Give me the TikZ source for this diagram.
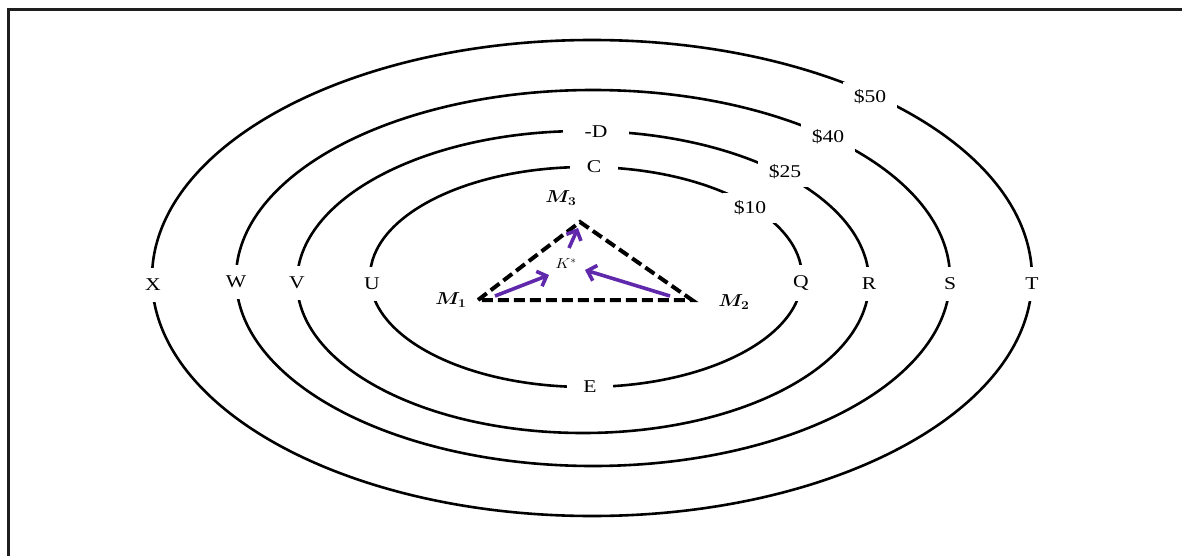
\documentclass[tikz,border=0pt]{standalone}
\usepackage{fontspec}
\usepackage{bm}
\setmainfont{Liberation Serif}
\usetikzlibrary{arrows.meta}
\definecolor{arrowpurple}{RGB}{96,40,170}
\definecolor{framegray}{RGB}{30,30,30}
\tikzset{
  curve/.style={line width=2.6pt, black},
  lab/.style={fill=white, font=\fontsize{18}{20}\selectfont, xscale=1.2},
  sidelab/.style={lab, inner xsep=4pt, inner ysep=11pt},
  toplab/.style={lab, inner xsep=14pt, inner ysep=3pt},
  moneylab/.style={lab, inner xsep=9pt, inner ysep=8pt},
  tri/.style={line width=4pt, dash pattern=on 11pt off 5pt, black},
  pointlab/.style={font=\fontsize{18}{20}\selectfont, inner sep=1pt, xscale=1.15},
  pull/.style={line width=3.6pt, arrowpurple, -{Straight Barb[length=8pt,width=16pt,line width=3.6pt]}}
}
\begin{document}
\begin{tikzpicture}[x=1pt, y=-1pt]
\useasboundingbox (0,0) rectangle (1182,556);
% frame
\draw[line width=2.2pt, framegray] (8.5,556) -- (8.5,9.5) -- (1182,9.5);
% ellipses
\draw[curve] (592,278) ellipse [x radius=440, y radius=238];
\draw[curve] (593,278) ellipse [x radius=357, y radius=188];
\draw[curve] (583,282) ellipse [x radius=286, y radius=151];
\draw[curve] (586,277) ellipse [x radius=216, y radius=110];
% labels on ellipses
\node[moneylab] (d50) at (870,97) {\$50};
\node[moneylab] (d40) at (828,137) {\$40};
\node[moneylab] (d25) at (785,172) {\$25};
\node[moneylab] (d10) at (750,208) {\$10};
\node[toplab, inner xsep=18pt] (mD) at (596,132) {-D};
\node[toplab] (lC) at (594,167) {C};
\node[toplab] (lE) at (590,387) {E};
\node[sidelab] (lX) at (153,285) {X};
\node[sidelab] (lW) at (236,282) {W};
\node[sidelab] (lV) at (297,283) {V};
\node[sidelab] (lU) at (372,284) {U};
\node[sidelab] (lQ) at (801,283) {Q};
\node[sidelab] (lR) at (869,284) {R};
\node[sidelab] (lS) at (950,284) {S};
\node[sidelab] (lT) at (1032,284) {T};
% triangle
\coordinate (m1) at (478,300);
\coordinate (m2) at (692,300);
\coordinate (m3) at (580,222);
\draw[tri] (m1) -- (m3) -- (m2) -- cycle;
\node[pointlab] (lm1) at (451,300) {$\bm{M_1}$};
\node[pointlab] (lm2) at (734,302) {$\bm{M_2}$};
\node[pointlab] (lm3) at (561,198) {$\bm{M_3}$};
\node[pointlab, font=\fontsize{14}{16}\selectfont] (k) at (566,264) {$K^{*}$};
% purple arrows
\coordinate (a1s) at (495,296);
\coordinate (a1e) at (549,275);
\coordinate (a2s) at (670,296);
\coordinate (a2e) at (585,270);
\coordinate (a3s) at (569,248);
\coordinate (a3e) at (578,228);
\draw[pull] (a1s) -- (a1e);
\draw[pull] (a2s) -- (a2e);
\draw[pull] (a3s) -- (a3e);
\end{tikzpicture}
\end{document}
